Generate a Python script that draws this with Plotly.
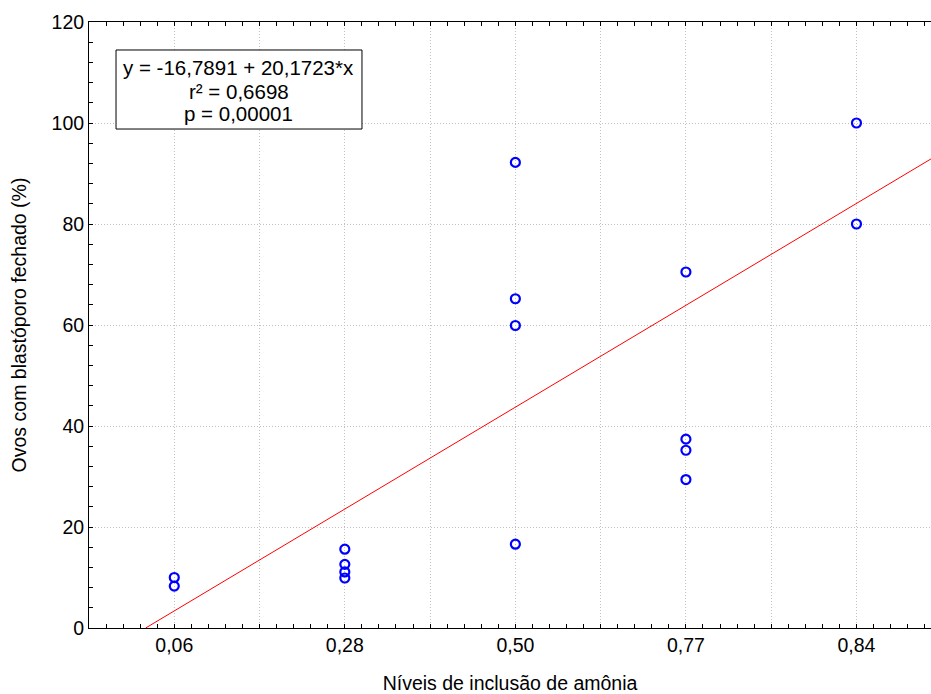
import plotly.graph_objects as go

categories = ["0,06", "0,28", "0,50", "0,77", "0,84"]
group_values = [
    [10.0, 8.3],
    [15.6, 12.6, 11.1, 9.9],
    [92.2, 65.2, 59.9, 16.6],
    [70.5, 37.4, 35.2, 29.4],
    [100.0, 80.0],
]
intercept = -16.7891
slope = 20.1723
stats_lines = ["y = -16,7891 + 20,1723*x", "r² = 0,6698", "p = 0,00001"]

xs, ys = [], []
for i, vals in enumerate(group_values):
    for v in vals:
        xs.append(i + 1)
        ys.append(v)

x_min, x_max = 0.5, 5.437
x0_line = -intercept / slope
line_x = [x0_line, x_max]
line_y = [intercept + slope * x for x in line_x]

font = "Liberation Sans, Arial, sans-serif"
FS = 19.5
grid_dash = "1px,2px"
fig = go.Figure()
fig.add_trace(go.Scatter(x=line_x, y=line_y, mode="lines",
                         line=dict(color="#ff0000", width=1), showlegend=False))
fig.add_trace(go.Scatter(x=xs, y=ys, mode="markers",
                         marker=dict(symbol="circle-open", size=9, color="#0000ff",
                                     line=dict(width=2.2, color="#0000ff")),
                         showlegend=False))

tickvals = [0.5 + 0.5 * k for k in range(10)]
ticktext = []
for t in tickvals:
    if abs(t - round(t)) < 1e-9 and 1 <= round(t) <= len(categories):
        ticktext.append(categories[int(round(t)) - 1])
    else:
        ticktext.append("")

line_pos = [0.9241, 0.8861, 0.8498]
annotations = []
for txt, yp in zip(stats_lines, line_pos):
    annotations.append(dict(text=txt, xref="paper", yref="paper", x=0.178, y=yp,
                            xanchor="center", yanchor="middle", showarrow=False,
                            font=dict(size=20.5, family=font, color="black")))

fig.update_layout(
    width=931, height=694,
    margin=dict(l=89, r=0, t=22, b=66, autoexpand=False),
    paper_bgcolor="white", plot_bgcolor="white",
    font=dict(family=font, size=FS, color="black"),
    xaxis=dict(range=[x_min, x_max], tickvals=tickvals, ticktext=ticktext,
               automargin=False,
               showgrid=True, gridcolor="#c0c0c0", griddash=grid_dash, gridwidth=1,
               showline=True, linecolor="black", linewidth=1, mirror="ticks",
               ticks="inside", ticklen=4, tickcolor="black",
               minor=dict(dtick=0.1, tick0=0.5, ticks="inside", ticklen=4,
                          tickcolor="black", showgrid=False),
               zeroline=False,
               title=dict(text="Níveis de inclusão de amônia", font=dict(size=FS), standoff=22)),
    yaxis=dict(range=[0, 120], dtick=20, tick0=0,
               automargin=False,
               showgrid=True, gridcolor="#c0c0c0", griddash=grid_dash, gridwidth=1,
               showline=True, linecolor="black", linewidth=1, mirror=False,
               ticks="inside", ticklen=4, tickcolor="black",
               minor=dict(dtick=4, ticks="inside", ticklen=4, tickcolor="black",
                          showgrid=False),
               zeroline=False,
               title=dict(text="Ovos com blastóporo fechado (%)", font=dict(size=FS), standoff=19)),
    shapes=[dict(type="rect", xref="paper", yref="paper",
                 x0=0.0321, x1=0.3242, y0=0.8234, y1=0.9538,
                 line=dict(color="black", width=1), fillcolor="white", layer="above")],
    annotations=annotations,
)
fig.write_html("out.html", config={"displayModeBar": False},
               post_script="document.body.style.margin='0';document.body.style.overflow='hidden';")
